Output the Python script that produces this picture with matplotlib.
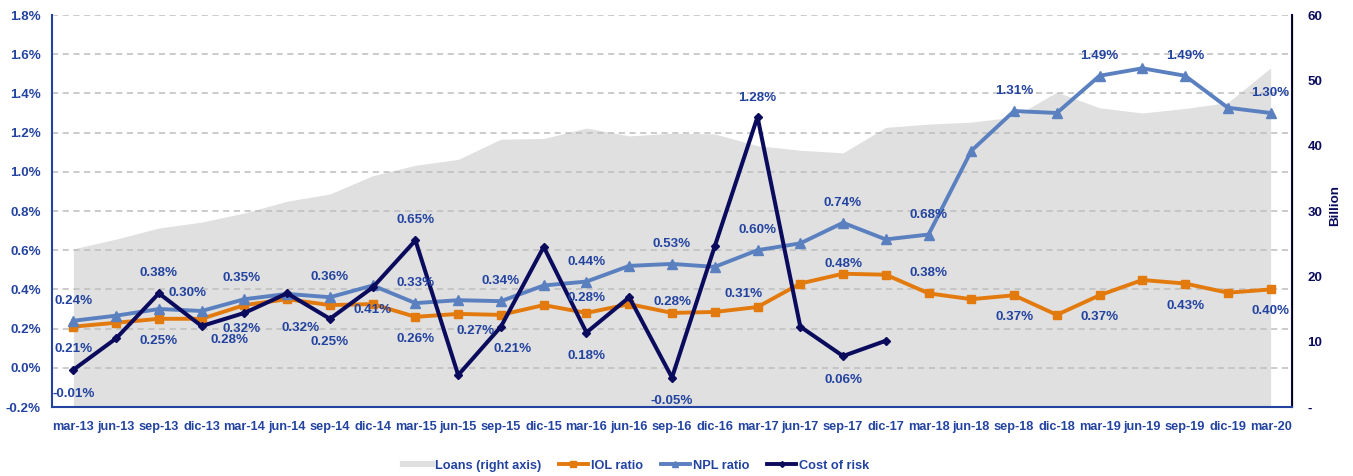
import matplotlib
matplotlib.use("Agg")
import matplotlib.pyplot as plt
import numpy as np
from matplotlib import font_manager
from matplotlib.lines import Line2D

# quarters mar-13 .. mar-20
quarters = ["mar-13", "jun-13", "sep-13", "dic-13", "mar-14", "jun-14", "sep-14", "dic-14",
            "mar-15", "jun-15", "sep-15", "dic-15", "mar-16", "jun-16", "sep-16", "dic-16",
            "mar-17", "jun-17", "sep-17", "dic-17", "mar-18", "jun-18", "sep-18", "dic-18",
            "mar-19", "jun-19", "sep-19", "dic-19", "mar-20"]

# loans, billion (right axis)
loans = [24.2, 25.7, 27.4, 28.3, 29.7, 31.5, 32.6, 35.4, 37.0, 37.9, 41.0, 41.1, 42.7, 41.5,
         41.9, 41.8, 40.0, 39.3, 38.9, 42.8, 43.3, 43.6, 44.4, 48.2, 45.8, 45.0, 45.7, 46.6, 51.9]

# ratios in %
iol_ratio = [0.21, 0.23, 0.25, 0.25, 0.32, 0.35, 0.32, 0.325, 0.26, 0.275, 0.27, 0.32, 0.28, 0.325,
             0.28, 0.285, 0.31, 0.43, 0.48, 0.475, 0.38, 0.35, 0.37, 0.27, 0.37, 0.448, 0.43,
             0.383, 0.40]
npl_ratio = [0.24, 0.266, 0.30, 0.29, 0.35, 0.377, 0.36, 0.42, 0.33, 0.345, 0.34, 0.42, 0.44, 0.52,
             0.53, 0.515, 0.60, 0.635, 0.74, 0.655, 0.68, 1.107, 1.31, 1.30, 1.49, 1.528, 1.49,
             1.327, 1.30]
cost_of_risk = [-0.01, 0.15, 0.38, 0.213, 0.28, 0.38, 0.25, 0.41, 0.65, -0.037, 0.21, 0.617, 0.18,
                0.36, -0.05, 0.62, 1.28, 0.21, 0.06, 0.138]

# which points carry a data label
npl_labelled = [0, 2, 4, 6, 8, 10, 12, 14, 16, 18, 20, 22, 24, 26, 28]
iol_labelled = [0, 2, 4, 6, 8, 10, 12, 14, 16, 18, 20, 22, 24, 26, 28]
cor_labelled = [0, 2, 4, 6, 7, 8, 10, 12, 14, 16, 18]

# label offsets from the point, pixels (dx, dy up)
npl_offsets = {2: (29, 16), 4: (-3, 21)}
iol_offsets = {0: (0, -22), 2: (0, -22), 4: (-3, -24), 6: (-29, -23), 8: (0, -22), 10: (-25, -16),
               12: (0, 15), 14: (0, 11), 16: (-14, 13), 18: (0, 10), 20: (0, 20)}
cor_offsets = {0: (0, -24), 2: (0, 20), 4: (-15, -27), 6: (0, -23), 7: (0, -23), 8: (0, 20),
               10: (12, -22), 12: (0, -23), 14: (0, -23), 16: (0, 19), 18: (0, -24)}

names = {f.name for f in font_manager.fontManager.ttflist}
if "Liberation Sans Narrow" in names:
    FONT, FS, FS_X = "Liberation Sans Narrow", 11, 11
else:
    FONT, FS, FS_X = "Liberation Sans", 9.6, 9.2
plt.rcParams["font.family"] = [FONT, "DejaVu Sans"]
plt.rcParams["font.weight"] = "bold"

BLUE_TXT = "#2343A0"
NAVY = "#0B0B5E"
ORANGE = "#E37A0E"
LBLUE = "#5B80C0"
GREY = "#E0E0E0"

x = np.arange(len(quarters))
cor = np.full(len(quarters), np.nan)
cor[:len(cost_of_risk)] = cost_of_risk

fig = plt.figure(figsize=(13.53, 4.76), dpi=100)
ax = fig.add_axes([52 / 1353, 1 - 407 / 476, 1240 / 1353, 392 / 476])
ax2 = ax.twinx()
ax.set_zorder(ax2.get_zorder() + 1)
ax.patch.set_visible(False)

# Loans area (right axis)
ax2.fill_between(x, 0, loans, color=GREY, lw=0)
ax2.set_ylim(0, 60)
ax2.set_yticks(range(0, 61, 10))
ax2.set_yticklabels(["-"] + [str(v) for v in range(10, 61, 10)])

# Ratios
ax.plot(x, iol_ratio, color=ORANGE, lw=2.8, marker="s", ms=5.8, zorder=3)
ax.plot(x, npl_ratio, color=LBLUE, lw=2.8, marker="^", ms=6.5, zorder=4)
ax.plot(x, cor, color=NAVY, lw=2.9, marker="D", ms=4, zorder=5)

ax.set_xlim(-0.5, len(quarters) - 0.5)
ax.set_ylim(-0.2, 1.8)
ax.set_yticks(np.arange(-0.2, 1.81, 0.2))
ax.set_yticklabels([f"{v:.1f}%" for v in np.arange(-0.2, 1.81, 0.2)])
ax.set_xticks(x)
ax.set_xticklabels(quarters)
ax.yaxis.grid(True, color="#BDBDBD", lw=1.1, linestyle=(0, (4, 3)))
ax.set_axisbelow(True)


def put_labels(values, idxs, offsets, default=(0, 20)):
    for i in idxs:
        dx, dy = offsets.get(i, default)
        ax.annotate(f"{values[i]:.2f}%", (x[i], values[i]), xytext=(dx * 0.72, dy * 0.72),
                    textcoords="offset points", ha="center", va="center",
                    fontsize=FS, color=BLUE_TXT, fontweight="bold", zorder=6)


put_labels(npl_ratio, npl_labelled, npl_offsets)
put_labels(iol_ratio, iol_labelled, iol_offsets, default=(0, -22))
put_labels(cor, cor_labelled, cor_offsets)

for a in (ax, ax2):
    a.spines["top"].set_visible(False)
ax.spines["left"].set_color(BLUE_TXT)
ax.spines["bottom"].set_color(BLUE_TXT)
ax.spines["left"].set_linewidth(1.5)
ax.spines["bottom"].set_linewidth(1.5)
ax2.spines["right"].set_color(NAVY)
ax2.spines["right"].set_linewidth(1.5)
ax2.spines["left"].set_visible(False)
ax2.spines["bottom"].set_visible(False)

ax.tick_params(axis="y", length=0, pad=8, labelsize=FS, labelcolor=BLUE_TXT)
ax.tick_params(axis="x", length=0, pad=10, labelsize=FS_X, labelcolor=BLUE_TXT)
ax2.tick_params(axis="y", length=0, pad=11, labelsize=FS, labelcolor=NAVY)

fig.text(1335 / 1353, 1 - 205 / 476, "Billion", rotation=90, ha="center", va="center",
         fontsize=FS, color=NAVY, fontweight="bold")

handles = [Line2D([], [], color=GREY, lw=4.5, label="Loans (right axis)"),
           Line2D([], [], color=ORANGE, lw=2.8, marker="s", ms=4, label="IOL ratio"),
           Line2D([], [], color=LBLUE, lw=2.8, marker="^", ms=4, label="NPL ratio"),
           Line2D([], [], color=NAVY, lw=2.8, marker="D", ms=3, label="Cost of risk")]
leg = fig.legend(handles=handles, loc="center", bbox_to_anchor=(0.47, 0.022), ncol=4,
                 frameon=False, fontsize=FS_X, handlelength=2.3, columnspacing=1.4,
                 handletextpad=0.2)
for t in leg.get_texts():
    t.set_color(BLUE_TXT)

fig.savefig("out.png", dpi=100)
